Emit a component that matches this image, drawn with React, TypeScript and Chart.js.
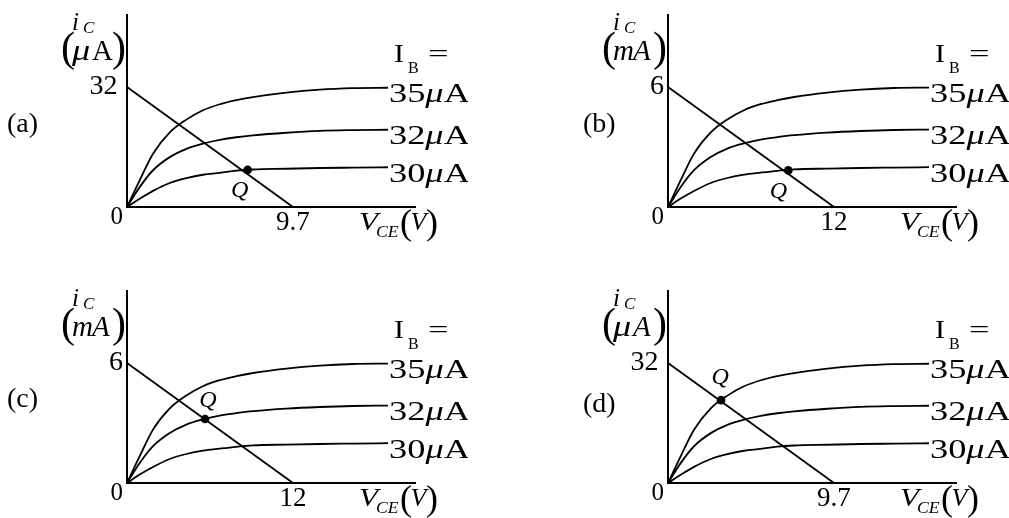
import React, { useEffect, useRef } from 'react';
import { Chart, registerables } from 'chart.js';

Chart.register(...registerables);

const FONT = '"Liberation Serif", "Times New Roman", serif';

// ---------- data ----------
// collector-emitter voltage samples (V) for panels scaled with 9.7 V / 32 uA
const vceMicro = [0, 0.74, 1.52, 2.5, 3.47, 4.44, 5.42, 6.39, 7.36, 9.31, 11.26, 13.21, 15.25];
const ic35Micro = [0, 7.1, 14.2, 19.9, 23.3, 25.8, 27.4, 28.5, 29.3, 30.5, 31.3, 31.7, 31.8];
const ic32Micro = [0, 5.3, 9.8, 13.3, 15.5, 16.9, 17.9, 18.6, 19.1, 19.8, 20.3, 20.5, 20.6];
const ic30Micro = [0, 2.2, 4.3, 6.4, 7.7, 8.6, 9.1, 9.7, 10.0, 10.2, 10.4, 10.5, 10.6];

// collector-emitter voltage samples (V) for panels scaled with 12 V / 6 mA
const vceMilli = [0, 0.92, 1.88, 3.09, 4.29, 5.49, 6.7, 7.9, 9.11, 11.51, 13.93, 16.34, 18.87];
const ic35Milli = [0, 1.34, 2.67, 3.73, 4.38, 4.84, 5.14, 5.34, 5.5, 5.72, 5.87, 5.95, 5.97];
const ic32Milli = [0, 1.0, 1.84, 2.5, 2.92, 3.18, 3.37, 3.49, 3.59, 3.72, 3.8, 3.85, 3.87];
const ic30Milli = [0, 0.42, 0.8, 1.2, 1.45, 1.62, 1.72, 1.81, 1.88, 1.92, 1.95, 1.97, 1.99];

// load lines (two end points)
const loadVceMicro = [0, 9.7];
const loadIcMicro = [32, 0];
const loadVceMilli = [0, 12];
const loadIcMilli = [6, 0];

// operating points Q for (a), (b), (c), (d)
const qVce = [7.05, 8.7, 5.64, 3.1];
const qIc = [9.9, 1.83, 3.2, 22.1];

// tick labels
const xTicksMicro = [9.7];
const yTicksMicro = [32];
const xTicksMilli = [12];
const yTicksMilli = [6];

// base-current labels
const ibLabels = ['35', '32', '30'];
const panelLetters = ['(a)', '(b)', '(c)', '(d)'];

// axis ranges (so that the drawing matches the original proportions)
const xMaxMicro = 16.83;
const yMaxMicro = 51.2;
const xMaxMilli = 20.82;
const yMaxMilli = 9.6;

// ---------- layout / style ----------
const CW = 468;
const CH = 250;

type Run = { t: string; size: number; italic?: boolean; x?: number; dy?: number; sx?: number };

function drawRuns(ctx: CanvasRenderingContext2D, x: number, y: number, runs: Run[]) {
  let cx = x;
  for (const r of runs) {
    ctx.save();
    ctx.font = `${r.italic ? 'italic ' : ''}${r.size}px ${FONT}`;
    const px = r.x !== undefined ? x + r.x : cx;
    const sx = r.sx || 1;
    ctx.translate(px, y + (r.dy || 0));
    ctx.scale(sx, 1);
    ctx.textAlign = 'left';
    ctx.textBaseline = 'alphabetic';
    ctx.fillText(r.t, 0, 0);
    const w = ctx.measureText(r.t).width * sx;
    ctx.restore();
    cx = px + w;
  }
}

interface PanelCfg {
  idx: number;
  left: number;
  top: number;
  letterX: number;
  letterY: number;
  micro: boolean;
  unitItalicA: boolean;
  qOff: [number, number];
}

const panels: PanelCfg[] = [
  { idx: 0, left: 0, top: 0, letterX: 7, letterY: 132, micro: true, unitItalicA: false, qOff: [-8, 21] },
  { idx: 1, left: 541, top: 0, letterX: 42, letterY: 132, micro: false, unitItalicA: true, qOff: [-10, 21] },
  { idx: 2, left: 0, top: 276, letterX: 7, letterY: 131, micro: false, unitItalicA: true, qOff: [3, -18] },
  { idx: 3, left: 541, top: 276, letterX: 42, letterY: 136, micro: true, unitItalicA: true, qOff: [-1, -22] },
];

function PanelChart({ cfg }: { cfg: PanelCfg }) {
  const ref = useRef<HTMLCanvasElement | null>(null);

  useEffect(() => {
    if (!ref.current) return;
    const micro = cfg.micro;
    const vce = micro ? vceMicro : vceMilli;
    const curves = micro ? [ic35Micro, ic32Micro, ic30Micro] : [ic35Milli, ic32Milli, ic30Milli];
    const loadV = micro ? loadVceMicro : loadVceMilli;
    const loadI = micro ? loadIcMicro : loadIcMilli;
    const xTicks = micro ? xTicksMicro : xTicksMilli;
    const yTicks = micro ? yTicksMicro : yTicksMilli;
    const i = cfg.idx;

    const curveSets = curves.map((c) => ({
      data: vce.map((x, k) => ({ x, y: c[k] })),
      borderColor: '#000',
      borderWidth: 1.8,
      pointRadius: 0,
      cubicInterpolationMode: 'monotone' as const,
      fill: false,
      clip: false as any,
    }));

    const textPlugin = {
      id: 'panelText' + i,
      afterDatasetsDraw(chart: any) {
        const ctx: CanvasRenderingContext2D = chart.ctx;
        const { left: L, top: T, right: R, bottom: B } = chart.chartArea;
        const xs = chart.scales.x;
        const ys = chart.scales.y;
        ctx.save();
        ctx.fillStyle = '#000';

        // panel letter
        drawRuns(ctx, cfg.letterX, cfg.letterY, [{ t: panelLetters[i], size: 28 }]);

        // y-axis title  i_C (uA / mA)
        drawRuns(ctx, L - 55, T + 15, [{ t: 'i', size: 25, italic: true }]);
        drawRuns(ctx, L - 44, T + 18, [{ t: 'C', size: 17, italic: true }]);
        drawRuns(ctx, L - 66, T + 46, [{ t: '(', size: 42 }]);
        drawRuns(ctx, L - 55, T + 45, [
          { t: micro ? 'μ' : 'm', size: 29, italic: true, sx: micro ? 1.25 : 1.0 },
        ]);
        drawRuns(ctx, L - 35, T + 45, [{ t: 'A', size: 29, italic: cfg.unitItalicA }]);
        drawRuns(ctx, L - 15, T + 46, [{ t: ')', size: 42 }]);

        // x-axis title V_CE (V)
        drawRuns(ctx, R - 56, B + 23, [{ t: 'V', size: 26, italic: true, sx: 1.2 }]);
        drawRuns(ctx, R - 39, B + 30, [{ t: 'CE', size: 16, italic: true, sx: 1.1 }]);
        drawRuns(ctx, R - 15, B + 27, [{ t: '(', size: 36 }]);
        drawRuns(ctx, R - 4.5, B + 23, [{ t: 'V', size: 26, italic: true }]);
        drawRuns(ctx, R + 11, B + 27, [{ t: ')', size: 36 }]);

        // curve labels
        curves.forEach((c, k) => {
          const n = c.length - 1;
          const ex = xs.getPixelForValue(vce[n]);
          const ey = ys.getPixelForValue(c[n]);
          drawRuns(ctx, ex + 1, ey + 14.5, [
            { t: ibLabels[k], size: 28, sx: 1.3 },
            { t: 'μ', size: 28, italic: true, sx: 1.3 },
            { t: 'A', size: 28, sx: 1.3 },
          ]);
          if (k === 0) {
            drawRuns(ctx, ex + 6, ey - 26, [{ t: 'I', size: 26, sx: 1.15 }]);
            drawRuns(ctx, ex + 20, ey - 15, [{ t: 'B', size: 16 }]);
            drawRuns(ctx, ex + 40, ey - 26, [{ t: '=', size: 26, sx: 1.4 }]);
          }
        });

        // Q label
        const qx = xs.getPixelForValue(qVce[i]);
        const qy = ys.getPixelForValue(qIc[i]);
        ctx.font = `italic 24px ${FONT}`;
        ctx.textAlign = 'center';
        ctx.textBaseline = 'middle';
        ctx.fillText('Q', qx + cfg.qOff[0], qy + cfg.qOff[1]);
        ctx.restore();
      },
    };

    const zeroPad = (s: any) => {
      s.paddingLeft = 0;
      s.paddingRight = 0;
      s.paddingTop = 0;
      s.paddingBottom = 0;
    };

    const chart = new Chart(ref.current, {
      type: 'line',
      data: {
        datasets: [
          ...curveSets,
          {
            data: loadV.map((x, k) => ({ x, y: loadI[k] })),
            borderColor: '#000',
            borderWidth: 1.8,
            pointRadius: 0,
            tension: 0,
            fill: false,
            clip: false as any,
          },
          {
            data: [{ x: qVce[i], y: qIc[i] }],
            showLine: false,
            pointRadius: 4.3,
            pointBackgroundColor: '#000',
            pointBorderColor: '#000',
            pointBorderWidth: 0,
            clip: false as any,
          },
        ] as any,
      },
      options: {
        animation: false,
        responsive: false,
        devicePixelRatio: 1,
        events: [],
        layout: { padding: { left: 87, top: 15, right: 53, bottom: 13 } },
        plugins: { legend: { display: false }, tooltip: { enabled: false }, title: { display: false } },
        scales: {
          x: {
            type: 'linear',
            min: 0,
            max: micro ? xMaxMicro : xMaxMilli,
            grid: { display: false, drawTicks: false },
            border: { display: true, color: '#000', width: 2 },
            ticks: {
              color: '#000',
              padding: 2,
              maxRotation: 0,
              autoSkip: false,
              font: { family: FONT, size: 27, lineHeight: 1 },
              callback: (v: any) => String(v),
            },
            afterBuildTicks: (s: any) => {
              s.ticks = xTicks.map((value) => ({ value }));
            },
            afterFit: (s: any) => {
              s.height = 30;
              zeroPad(s);
            },
          },
          y: {
            type: 'linear',
            min: 0,
            max: micro ? yMaxMicro : yMaxMilli,
            grid: { display: false, drawTicks: false },
            border: { display: true, color: '#000', width: 2 },
            ticks: {
              color: '#000',
              padding: 4,
              autoSkip: false,
              font: (c: any) =>
                c && c.tick && c.tick.value === 0
                  ? { family: FONT, size: 25, lineHeight: '21px' }
                  : { family: FONT, size: 28, lineHeight: 1 },
              callback: (v: any) => {
                if (v === 0) return ['', '0'];
                const s = String(v);
                return s.length > 1 ? s + '\u2009' : s;
              },
            },
            afterBuildTicks: (s: any) => {
              s.ticks = [{ value: 0 }, ...yTicks.map((value) => ({ value }))];
            },
            afterFit: (s: any) => {
              s.width = 40;
              zeroPad(s);
            },
          },
        },
      } as any,
      plugins: [textPlugin],
    });
    return () => chart.destroy();
  }, [cfg]);

  return (
    <canvas
      ref={ref}
      width={CW}
      height={CH}
      style={{ position: 'absolute', left: cfg.left, top: cfg.top, width: CW, height: CH }}
    />
  );
}

export default function App() {
  return (
    <div
      style={{
        position: 'fixed',
        left: 0,
        top: 0,
        width: 1009,
        height: 518,
        overflow: 'hidden',
        background: '#fff',
      }}
    >
      {panels.map((p) => (
        <PanelChart key={p.idx} cfg={p} />
      ))}
    </div>
  );
}
